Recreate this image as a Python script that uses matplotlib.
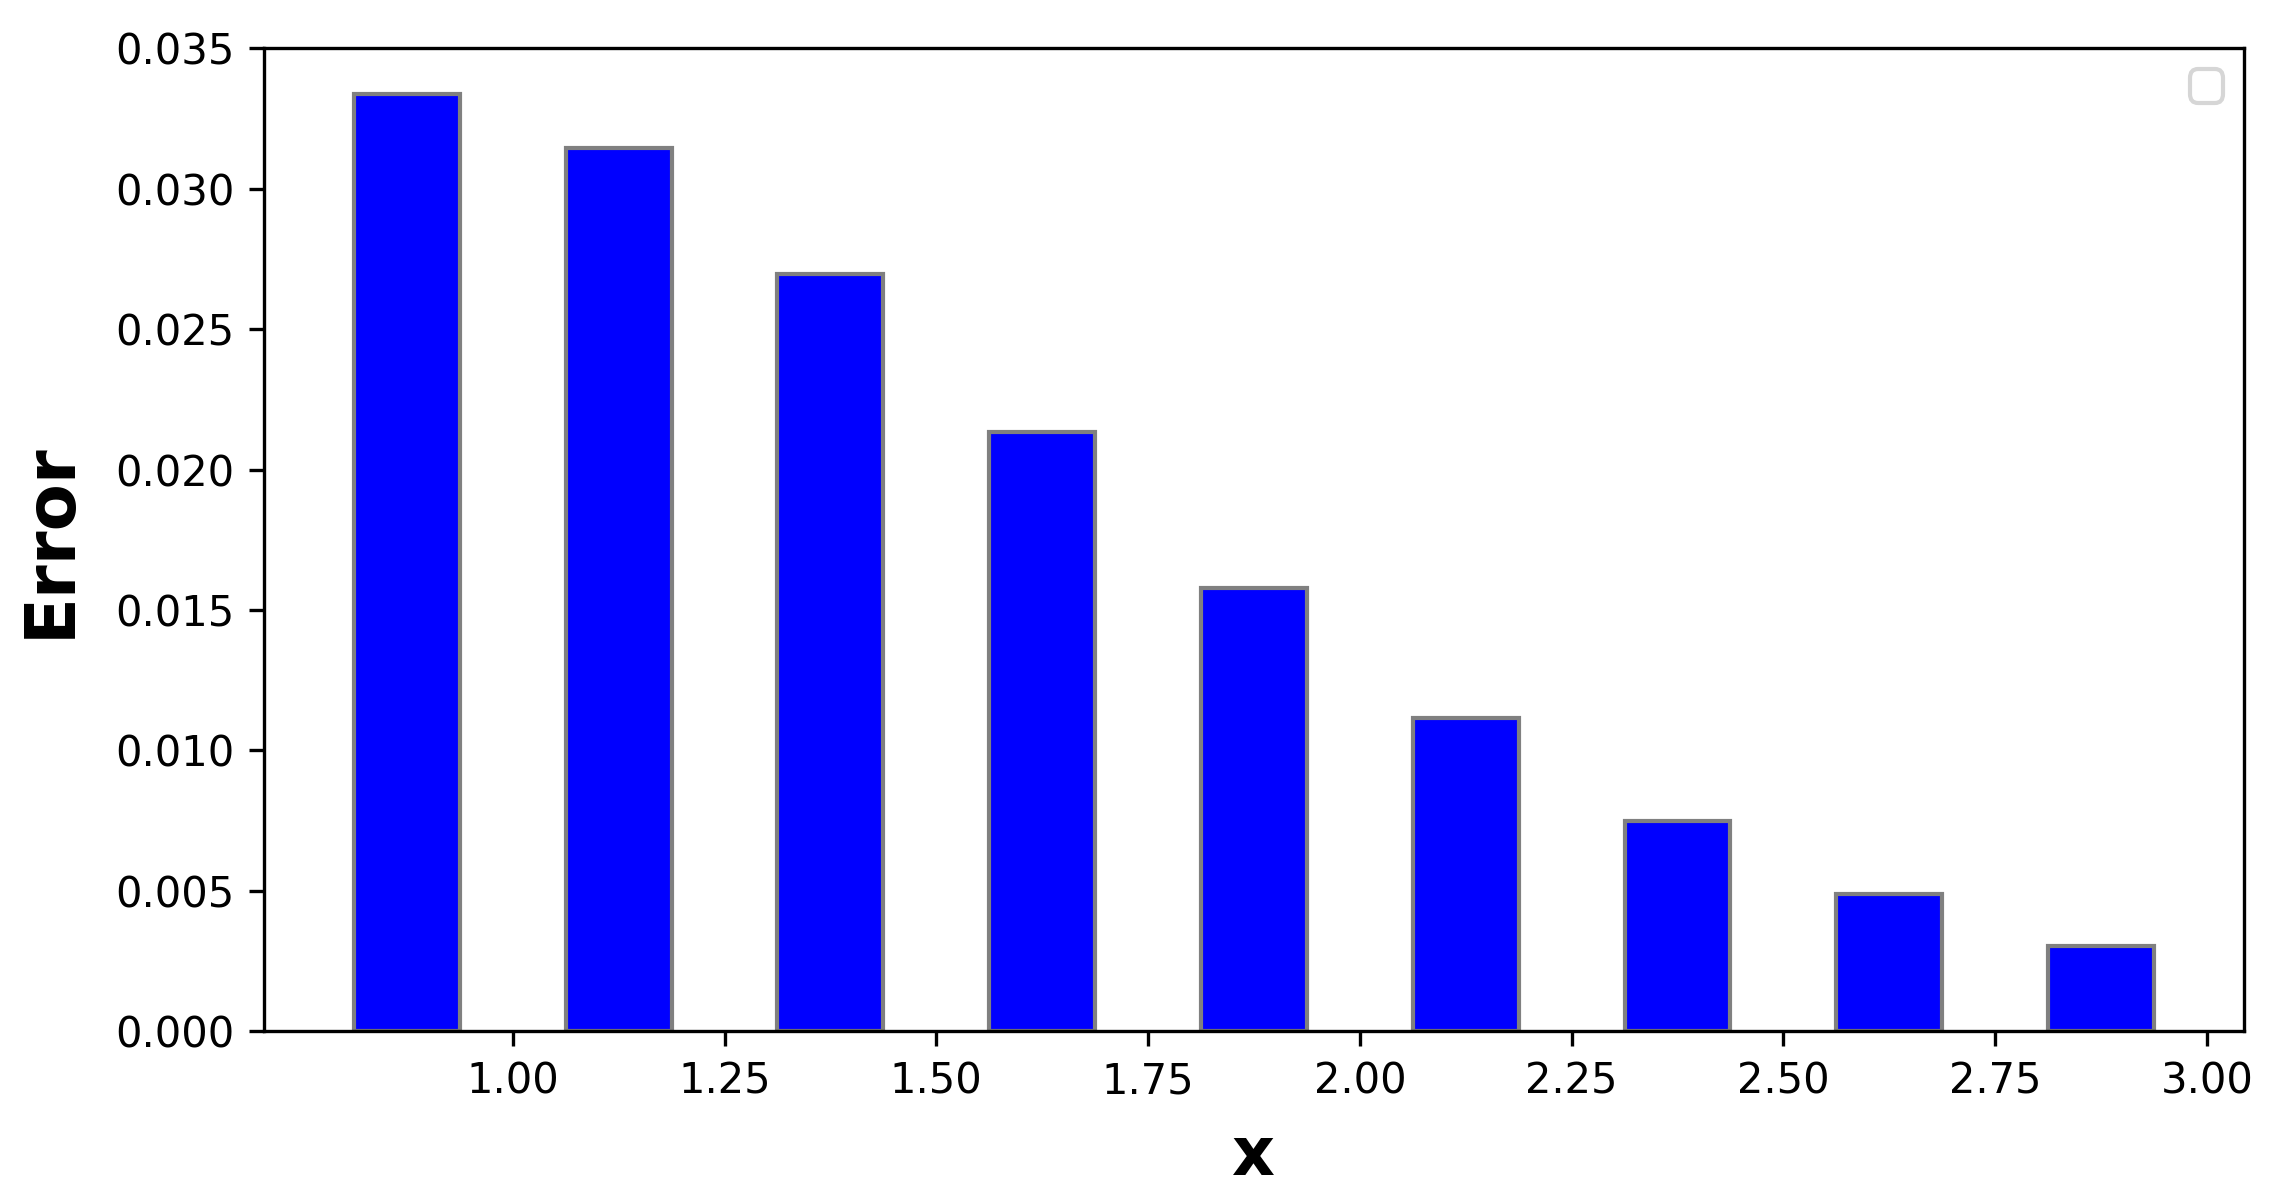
import numpy as np
import matplotlib
matplotlib.use("Agg")
import matplotlib.pyplot as plt

# bar centres and error values
x_vals = [0.875, 1.125, 1.375, 1.625, 1.875, 2.125, 2.375, 2.625, 2.875]
errors = [0.03338, 0.03145, 0.02695, 0.02135, 0.01580, 0.01115, 0.00750, 0.00490, 0.00305]
bar_width = 0.125

fig = plt.figure(figsize=(2277 / 300, 1197 / 300), dpi=300)
ax = fig.add_axes([0.1159, 0.1385, 0.8696, 0.8211])

ax.bar(x_vals, errors, width=bar_width, color="blue", edgecolor="grey", linewidth=1)
ax.set_xticks([1.00, 1.25, 1.50, 1.75, 2.00, 2.25, 2.50, 2.75, 3.00])
ax.set_xticklabels(["1.00", "1.25", "1.50", "1.75", "2.00", "2.25", "2.50", "2.75", "3.00"])
ax.set_ylim(0, 0.035)
ax.tick_params(labelsize=10)

ax.set_xlabel("x", fontsize=16, fontweight="bold", labelpad=5)
ax.set_ylabel("Error", fontsize=16.5, fontweight="bold", labelpad=7.5)
ax.legend(handles=[], loc="upper right")

fig.savefig("out.png", dpi=300)
